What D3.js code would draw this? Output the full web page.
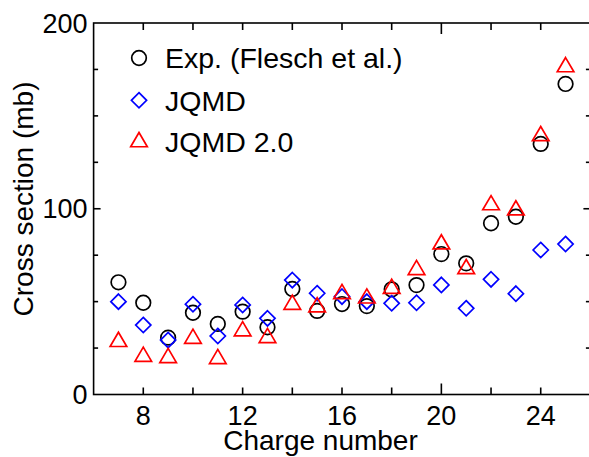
<!DOCTYPE html>
<html>
<head>
<meta charset="utf-8">
<script src="https://cdn.jsdelivr.net/npm/d3@7"></script>
<style>
  html, body { margin: 0; padding: 0; background: #fff; }
  svg { display: block; }
  text { font-family: "Liberation Sans", Arial, Helvetica, sans-serif; fill: #000; }
</style>
</head>
<body>
<svg id="chart" width="589" height="457"></svg>
<script>
// Charge number of the fragment
const charges = [7, 8, 9, 10, 11, 12, 13, 14, 15, 16, 17, 18, 19, 20, 21, 22, 23, 24, 25];
// Cross sections (mb)
const expValues   = [60.4, 49.4, 30.6, 44.0, 38.0, 44.6, 36.2, 56.8, 45.0, 48.7, 47.6, 56.6, 58.9, 75.6, 70.6, 92.2, 95.7, 134.9, 167.2];
const jqmdValues  = [50.0, 37.4, 29.3, 48.6, 31.5, 48.2, 41.0, 61.6, 54.5, 52.7, 50.0, 49.1, 49.4, 59.0, 46.4, 62.0, 54.3, 77.8, 81.0];
const jqmd2Values = [28.4, 20.4, 19.7, 30.1, 19.2, 34.1, 30.5, 48.4, 47.0, 54.2, 51.8, 57.0, 67.1, 80.9, 67.6, 102.0, 99.2, 139.2, 176.3];

const xTickLabels = [8, 12, 16, 20, 24];
const xMinorTicks = [8, 10, 12, 14, 16, 18, 20, 22, 24];
const yTickLabels = [0, 100, 200];
const yMinorTicks = [25, 50, 75, 125, 150, 175];

const seriesNames = ["Exp. (Flesch et al.)", "JQMD", "JQMD 2.0"];

const svg = d3.select("#chart");
const x = d3.scaleLinear().domain([6, 26]).range([93.6, 590.4]);
const y = d3.scaleLinear().domain([0, 200]).range([394.5, 23]);

const axisW = 1.6;
const g = svg.append("g");

// Frame
g.append("rect")
  .attr("x", x(6)).attr("y", y(200))
  .attr("width", x(26) - x(6)).attr("height", y(0) - y(200))
  .attr("fill", "none").attr("stroke", "#000").attr("stroke-width", axisW);

// Ticks: bottom/top point inward, left/right point inward
function xTickLen(v) { return v === 20 ? 11 : 7; }
function yTickLen(v) { return (v % 100 === 0) ? 7 : 4.5; }

xMinorTicks.forEach(v => {
  g.append("line").attr("x1", x(v)).attr("x2", x(v))
    .attr("y1", y(0)).attr("y2", y(0) - xTickLen(v))
    .attr("stroke", "#000").attr("stroke-width", axisW);
  g.append("line").attr("x1", x(v)).attr("x2", x(v))
    .attr("y1", y(200)).attr("y2", y(200) + xTickLen(v))
    .attr("stroke", "#000").attr("stroke-width", axisW);
});
yMinorTicks.concat([100]).forEach(v => {
  g.append("line").attr("x1", x(6)).attr("x2", x(6) + yTickLen(v))
    .attr("y1", y(v)).attr("y2", y(v))
    .attr("stroke", "#000").attr("stroke-width", axisW);
  g.append("line").attr("x1", x(26)).attr("x2", x(26) - yTickLen(v))
    .attr("y1", y(v)).attr("y2", y(v))
    .attr("stroke", "#000").attr("stroke-width", axisW);
});

// Tick labels
g.selectAll(".xl").data(xTickLabels).enter().append("text")
  .attr("x", d => x(d)).attr("y", 425)
  .attr("text-anchor", "middle").attr("font-size", 27)
  .text(d => d);
g.selectAll(".yl").data(yTickLabels).enter().append("text")
  .attr("x", 87.5).attr("y", d => y(d) + 9.5)
  .attr("text-anchor", "end").attr("font-size", 27)
  .text(d => d);

// Axis titles
svg.append("text")
  .attr("x", 320.5).attr("y", 450)
  .attr("text-anchor", "middle").attr("font-size", 28)
  .text("Charge number");
svg.append("text")
  .attr("transform", "translate(33,199) rotate(-90)")
  .attr("text-anchor", "middle").attr("font-size", 28)
  .text("Cross section (mb)");

// Marker shapes
const mStroke = 1.7;
function circle(sel, cx, cy) {
  sel.append("circle").attr("cx", cx).attr("cy", cy).attr("r", 7.3)
    .attr("fill", "none").attr("stroke", "#000").attr("stroke-width", mStroke);
}
function diamond(sel, cx, cy) {
  const s = 7.6;
  sel.append("path")
    .attr("d", `M${cx},${cy - s}L${cx + s},${cy}L${cx},${cy + s}L${cx - s},${cy}Z`)
    .attr("fill", "none").attr("stroke", "#0000ff").attr("stroke-width", mStroke);
}
function triangle(sel, cx, cy) {
  // centred on the centroid
  const h = 14.2, hw = 8.3;
  const top = cy - h * 2 / 3, bot = cy + h / 3;
  sel.append("path")
    .attr("d", `M${cx},${top}L${cx + hw},${bot}L${cx - hw},${bot}Z`)
    .attr("fill", "none").attr("stroke", "#ff0000").attr("stroke-width", mStroke)
    .attr("stroke-linejoin", "miter");
}

const pts = svg.append("g");
charges.forEach((c, i) => {
  circle(pts, x(c), y(expValues[i]));
  diamond(pts, x(c), y(jqmdValues[i]));
  triangle(pts, x(c), y(jqmd2Values[i]));
});

// Legend
const leg = svg.append("g");
const legendMarkers = [circle, diamond, triangle];
const legendY = [58, 100.3, 142];
seriesNames.forEach((name, i) => {
  legendMarkers[i](leg, 139, legendY[i]);
  leg.append("text")
    .attr("x", 165).attr("y", legendY[i] + 10.2)
    .attr("font-size", 28.5)
    .text(name);
});
</script>
</body>
</html>
